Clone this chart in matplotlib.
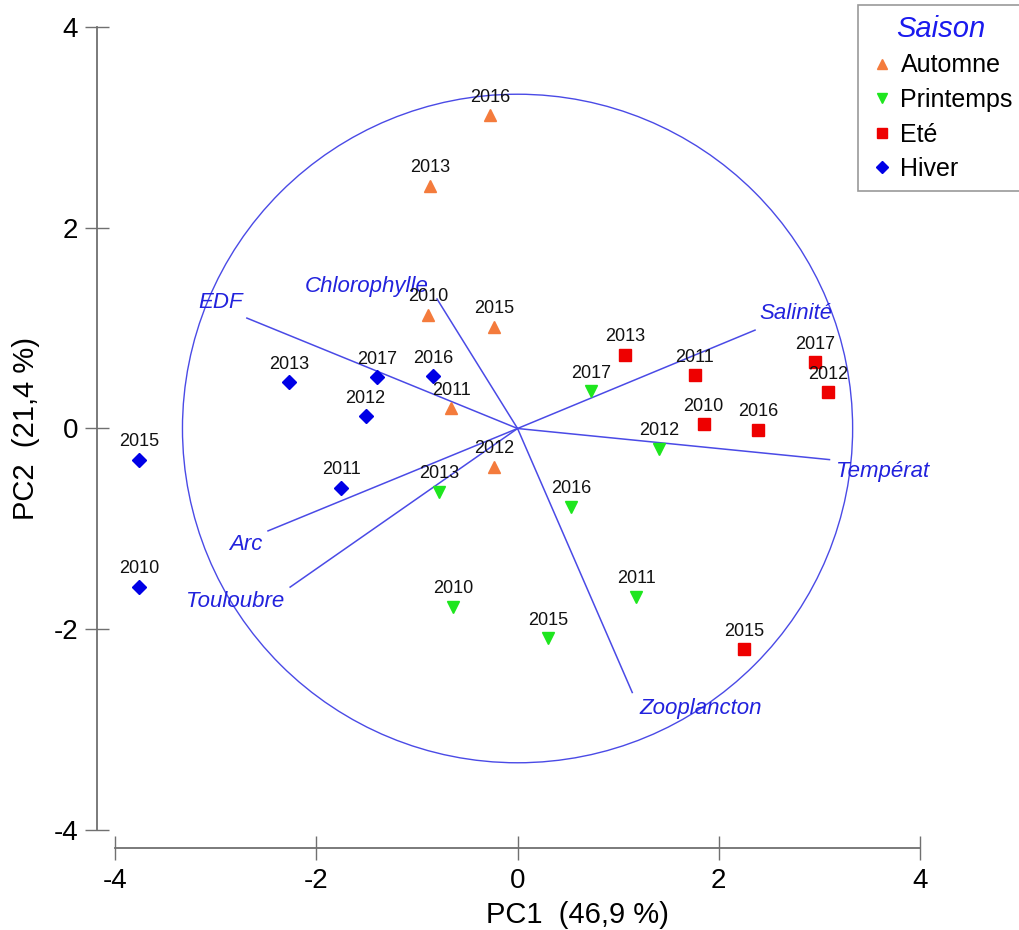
import numpy as np
import matplotlib.pyplot as plt
from matplotlib.patches import Circle

plt.rcParams['font.family'] = ['Liberation Sans', 'DejaVu Sans']
plt.rcParams['axes.unicode_minus'] = False

# individus (PC1, PC2) par saison
years_hiver = ['2015', '2010', '2013', '2017', '2016', '2012', '2011']
x_hiver = [-3.76, -3.76, -2.27, -1.40, -0.84, -1.51, -1.75]
y_hiver = [-0.31, -1.58, 0.46, 0.51, 0.52, 0.12, -0.59]

years_automne = ['2016', '2013', '2010', '2015', '2011', '2012']
x_automne = [-0.27, -0.87, -0.89, -0.23, -0.66, -0.23]
y_automne = [3.12, 2.42, 1.13, 1.01, 0.20, -0.38]

years_printemps = ['2017', '2012', '2013', '2016', '2010', '2011', '2015']
x_printemps = [0.73, 1.41, -0.78, 0.53, -0.64, 1.18, 0.30]
y_printemps = [0.37, -0.20, -0.63, -0.78, -1.78, -1.68, -2.09]

years_ete = ['2013', '2011', '2010', '2016', '2017', '2012', '2015']
x_ete = [1.07, 1.76, 1.85, 2.39, 2.96, 3.09, 2.25]
y_ete = [0.73, 0.53, 0.04, -0.01, 0.66, 0.36, -2.20]

# variables (vecteurs)
var_names = ['EDF', 'Chlorophylle', 'Salinité', 'Températ', 'Zooplancton', 'Arc', 'Touloubre']
var_x = [-2.69, -0.80, 2.36, 3.10, 1.14, -2.48, -2.26]
var_y = [1.10, 1.29, 0.98, -0.31, -2.63, -1.02, -1.58]
# position des étiquettes des variables
lab_x = [-2.95, -1.50, 2.77, 3.63, 1.82, -2.70, -2.81]
lab_y = [1.26, 1.41, 1.15, -0.43, -2.79, -1.16, -1.72]

radius = 3.33

fig = plt.figure(figsize=(10.19, 9.30), dpi=100)
ax = fig.add_axes([0.1129, 0.1075, 0.79, 0.8635])

vcol = '#4a4ae6'
ax.add_patch(Circle((0, 0), radius, fill=False, edgecolor=vcol, linewidth=1.0))
for vx, vy, name, lx, ly in zip(var_x, var_y, var_names, lab_x, lab_y):
    ax.plot([0, vx], [0, vy], color=vcol, linewidth=1.1)
    ax.text(lx, ly, name, color='#2222dd', fontsize=16, style='italic',
            ha='center', va='center')

groups = [
    ('Automne', x_automne, y_automne, years_automne, '^', '#f47b3c'),
    ('Printemps', x_printemps, y_printemps, years_printemps, 'v', '#1ee61e'),
    ('Eté', x_ete, y_ete, years_ete, 's', '#ee0000'),
    ('Hiver', x_hiver, y_hiver, years_hiver, 'D', '#0000e6'),
]
handles = []
for name, xs, ys, yrs, mk, col in groups:
    ms = 7.5 if mk == 'D' else 9
    if mk == 's':
        ms = 8.5
    h, = ax.plot(xs, ys, linestyle='none', marker=mk, color=col, markersize=ms, label=name)
    handles.append(h)
    for x, y, t in zip(xs, ys, yrs):
        ax.annotate(t, (x, y), xytext=(0, 7), textcoords='offset points',
                    ha='center', va='bottom', fontsize=13, color='#111111')

ax.set_xlim(-4, 4)
ax.set_ylim(-4, 4)
ax.set_xticks([-4, -2, 0, 2, 4])
ax.set_yticks([-4, -2, 0, 2, 4])
for s in ['top', 'right']:
    ax.spines[s].set_visible(False)
for s in ['left', 'bottom']:
    ax.spines[s].set_position(('outward', 13))
    ax.spines[s].set_color('#707070')
    ax.spines[s].set_linewidth(1.3)
ax.tick_params(direction='inout', length=17, width=1.0, color='#707070',
               labelsize=20)
ax.tick_params(axis='x', pad=6)
ax.tick_params(axis='y', pad=5)
ax.set_xlabel('PC1  (46,9 %)', fontsize=21)
ax.xaxis.set_label_coords(0.574, -0.088)
ax.set_ylabel('PC2  (21,4 %)', fontsize=21, labelpad=10)

leg = fig.legend(handles=handles, loc='upper left',
                 bbox_to_anchor=(858 / 1019, 1 - 5 / 930), borderaxespad=0,
                 fontsize=18, title='Saison', fancybox=False, edgecolor='#808080',
                 handletextpad=0.2, handlelength=1.1, labelspacing=0.42,
                 borderpad=0.4, markerscale=0.85)
leg.get_title().set_color('#1a1aee')
leg.get_title().set_fontsize(21)
leg.get_title().set_style('italic')
leg.get_frame().set_linewidth(1.2)

fig.savefig('out.png', dpi=100)
